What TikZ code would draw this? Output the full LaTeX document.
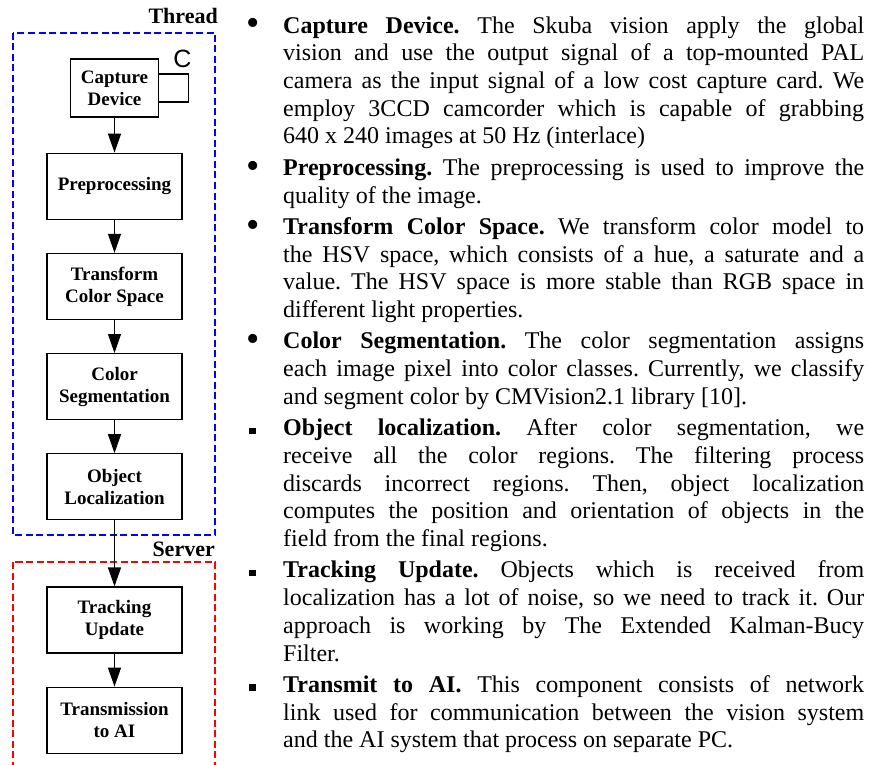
\documentclass[tikz,border=0pt]{standalone}
\usepackage{fontspec}
\setmainfont{Liberation Serif}
\newfontfamily\loopfont{Liberation Sans}
\usetikzlibrary{arrows.meta,positioning}
\tolerance=10000
\hyphenpenalty=10000
\exhyphenpenalty=10000
\frenchspacing
\tikzset{
  box/.style={draw,line width=1.2pt,inner sep=0pt,align=center,
    minimum width=135pt,minimum height=66pt,
    font=\bfseries\fontsize{19}{22}\selectfont},
  flow/.style={line width=1.2pt,-{Triangle[length=19pt,width=13pt]}},
  grp/.style={draw=#1,line width=2.6pt,dash pattern=on 7pt off 3.5pt},
  grplabel/.style={anchor=base east,inner sep=0pt,
    font=\bfseries\fontsize{22}{26}\selectfont},
  item/.style={anchor=north west,inner sep=0pt,text width=581pt,
    align=justify,font=\fontsize{24}{27.7}\selectfont\frenchspacing}
}
% Aufzaehlungszeichen im linken Rand
\newcommand{\dotmark}{\llap{\raisebox{-2.7pt}{\fontsize{38}{38}\selectfont\textbullet}\hspace{23.4pt}}}
\newcommand{\sqmark}{\llap{\raisebox{1.5pt}{\rule{6.5pt}{6.5pt}}\hspace{27.5pt}}}
\begin{document}
\begin{tikzpicture}[x=1pt,y=-1pt,node distance=33pt]
\useasboundingbox (0,0) rectangle (870,765);
\clip (0,0) rectangle (870,765);
% Gruppen
  \draw[grp=blue] (13,33) rectangle (215,535);
  \draw[grp=red] (13,562) rectangle (215,790);
  \node[grplabel] (thr) at (218,24) {Thread};
  \node[grplabel] (srv) at (215,556) {Server};
% Ablauf
  \node[box,minimum width=88pt,minimum height=58pt] (cap) at (114.5,88) {Capture\\Device};
  \node[box,below=35pt of cap] (pre) {Preprocessing};
  \node[box,below=of pre] (tcs) {Transform\\Color Space};
  \node[box,below=of tcs] (seg) {Color\\Segmentation};
  \node[box,below=of seg] (loc) {Object\\Localization};
  \node[box,below=66pt of loc] (trk) {Tracking\\Update};
  \node[box,below=of trk] (tx) {Transmission\\to AI};
% Schleife an Capture Device
  \draw[line width=1.2pt] ([yshift=14pt]cap.east) -- ++(29pt,0) -- ++(0,-28pt)
    -- ([yshift=-14pt]cap.east);
  \node[inner sep=0pt,font=\loopfont\fontsize{25}{30}\selectfont] (clbl) at (182.5,59) {C};
  \foreach \a/\b in {cap/pre,pre/tcs,tcs/seg,seg/loc,loc/trk,trk/tx}
    \draw[flow] (\a) -- (\b);
% Beschreibung
  \node[item] (i1) at (283,13.6) {\strut\dotmark\textbf{Capture Device.} The Skuba vision apply the global\linebreak
    vision and use the output signal of a top-mounted PAL\linebreak
    camera as the input signal of a low cost capture card. We\linebreak
    employ 3CCD camcorder which is capable of grabbing\linebreak
    640 x 240 images at 50 Hz (interlace)\strut};
  \node[item,below=3.3pt of i1.south west,anchor=north west] (i2) {\strut\dotmark\textbf{Preprocessing.} The preprocessing is used to improve the\linebreak
    quality of the image.\strut};
  \node[item,below=3.3pt of i2.south west,anchor=north west] (i3) {\strut\dotmark\textbf{Transform Color Space.} We transform color model to\linebreak
    the HSV space, which consists of a hue, a saturate and a\linebreak
    value. The HSV space is more stable than RGB space in\linebreak
    different light properties.\strut};
  \node[item,below=3.3pt of i3.south west,anchor=north west] (i4) {\strut\dotmark\textbf{Color Segmentation.} The color segmentation assigns\linebreak
    each image pixel into color classes. Currently, we classify\linebreak
    and segment color by CMVision2.1 library [10].\strut};
  \node[item,below=3.3pt of i4.south west,anchor=north west] (i5) {\strut\sqmark\textbf{Object localization.} After color segmentation, we\linebreak
    receive all the color regions. The filtering process\linebreak
    discards incorrect regions. Then, object localization\linebreak
    computes the position and orientation of objects in the\linebreak
    field from the final regions.\strut};
  \node[item,below=3.3pt of i5.south west,anchor=north west] (i6) {\strut\sqmark\textbf{Tracking Update.} Objects which is received from\linebreak
    localization has a lot of noise, so we need to track it. Our\linebreak
    approach is working by The Extended Kalman-Bucy\linebreak
    Filter.\strut};
  \node[item,below=3.3pt of i6.south west,anchor=north west] (i7) {\strut\sqmark\textbf{Transmit to AI.} This component consists of network\linebreak
    link used for communication between the vision system\linebreak
    and the AI system that process on separate PC.\strut};
\end{tikzpicture}
\end{document}
